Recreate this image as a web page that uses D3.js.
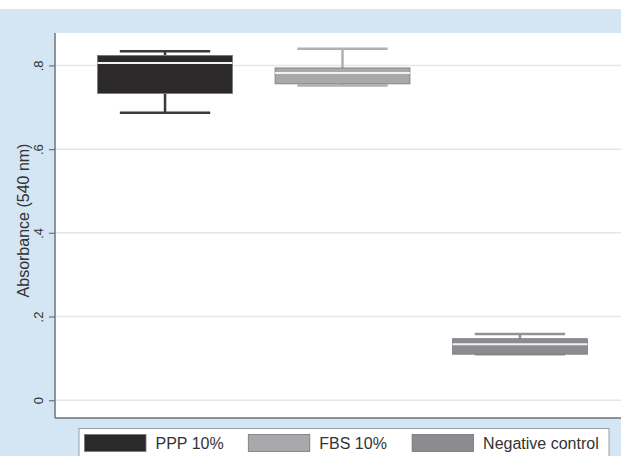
<!DOCTYPE html>
<html>
<head>
<meta charset="utf-8">
<script src="https://cdn.jsdelivr.net/npm/d3@7"></script>
<style>
  body { margin: 0; background: #fff; }
  svg { display: block; font-family: "Liberation Sans", Arial, sans-serif; }
</style>
</head>
<body>
<div id="chart"></div>
<script>
// box plot data
const groups = ["PPP 10%", "FBS 10%", "Negative control"];
const lowerWhisker = [0.687, 0.752, 0.110];
const q1 = [0.733, 0.756, 0.110];
const median = [0.806, 0.782, 0.134];
const q3 = [0.824, 0.794, 0.147];
const upperWhisker = [0.834, 0.840, 0.158];
const yTickValues = [0, 0.2, 0.4, 0.6, 0.8];

const fills = ["#2c292a", "#a9a9ac", "#8c8c90"];
const whiskerColors = ["#3a3839", "#b0b0b3", "#939397"];

const width = 621, height = 456;
const plot = { left: 55, right: 630, top: 33, bottom: 418 };

const svg = d3.select("#chart")
    .append("svg")
    .attr("width", width)
    .attr("height", height)
    .attr("viewBox", `0 0 ${width} ${height}`);

// graph region background
svg.append("rect")
    .attr("x", 0).attr("y", 9)
    .attr("width", width).attr("height", height - 9)
    .attr("fill", "#d4e5f4");

svg.append("rect")
    .attr("x", plot.left).attr("y", plot.top)
    .attr("width", plot.right - plot.left).attr("height", plot.bottom - plot.top)
    .attr("fill", "#ffffff");

const x = d3.scaleBand()
    .domain(groups)
    .range([plot.left, plot.right])
    .paddingInner(0.24)
    .paddingOuter(0.24);

const y = d3.scaleLinear()
    .domain([-0.0425, 0.8775])
    .range([plot.bottom, plot.top]);

// grid
svg.append("g")
    .selectAll("line")
    .data(yTickValues)
    .join("line")
    .attr("x1", plot.left).attr("x2", plot.right)
    .attr("y1", d => y(d)).attr("y2", d => y(d))
    .attr("stroke", "#e6e6e6")
    .attr("stroke-width", 1.5);

// y axis
const yAxis = svg.append("g")
    .attr("transform", `translate(${plot.left},0)`)
    .call(d3.axisLeft(y)
        .tickValues(yTickValues)
        .tickSize(6)
        .tickFormat(d => d === 0 ? "0" : d3.format(".1f")(d).replace(/^0/, "")));

yAxis.select(".domain").remove();
yAxis.selectAll(".tick line").attr("stroke", "#6d7378").attr("stroke-width", 1.2);
yAxis.selectAll(".tick text")
    .attr("transform", "rotate(-90)")
    .attr("x", 0)
    .attr("y", -12)
    .attr("dy", 0)
    .attr("text-anchor", "middle")
    .attr("fill", "#333")
    .attr("font-size", "13px");

// axis lines
svg.append("line")
    .attr("x1", plot.left).attr("x2", plot.left)
    .attr("y1", plot.top).attr("y2", plot.bottom)
    .attr("stroke", "#6d7378").attr("stroke-width", 1.5);
svg.append("line")
    .attr("x1", plot.left).attr("x2", plot.right)
    .attr("y1", plot.bottom).attr("y2", plot.bottom)
    .attr("stroke", "#6d7378").attr("stroke-width", 1.5);

svg.append("text")
    .attr("transform", `translate(23,${(plot.top + plot.bottom) / 2 - 5}) rotate(-90)`)
    .attr("text-anchor", "middle")
    .attr("dy", "0.35em")
    .attr("font-size", "16px")
    .attr("fill", "#333")
    .text("Absorbance (540 nm)");

// boxes
const boxes = svg.append("g")
    .selectAll("g")
    .data(groups)
    .join("g");

const bw = x.bandwidth();
const capW = bw * 0.67;

boxes.each(function (g, i) {
    const sel = d3.select(this);
    const cx = x(g) + bw / 2;

    sel.append("line")
        .attr("x1", cx).attr("x2", cx)
        .attr("y1", y(upperWhisker[i])).attr("y2", y(q3[i]))
        .attr("stroke", whiskerColors[i]).attr("stroke-width", 2.5);
    sel.append("line")
        .attr("x1", cx).attr("x2", cx)
        .attr("y1", y(q1[i])).attr("y2", y(lowerWhisker[i]))
        .attr("stroke", whiskerColors[i]).attr("stroke-width", 2.5);
    [upperWhisker[i], lowerWhisker[i]].forEach(v => {
        sel.append("line")
            .attr("x1", cx - capW / 2).attr("x2", cx + capW / 2)
            .attr("y1", y(v)).attr("y2", y(v))
            .attr("stroke", whiskerColors[i]).attr("stroke-width", 2.5);
    });

    sel.append("rect")
        .attr("x", x(g))
        .attr("y", y(q3[i]))
        .attr("width", bw)
        .attr("height", y(q1[i]) - y(q3[i]))
        .attr("fill", fills[i])
        .attr("stroke", "#77777a")
        .attr("stroke-width", 0.8);

    sel.append("line")
        .attr("x1", x(g)).attr("x2", x(g) + bw)
        .attr("y1", y(median[i])).attr("y2", y(median[i]))
        .attr("stroke", "#f2f2f2").attr("stroke-width", 2);
});

// legend
const legend = svg.append("g");
legend.append("rect")
    .attr("x", 79).attr("y", 428.5)
    .attr("width", 530).attr("height", 40)
    .attr("fill", "#fff")
    .attr("stroke", "#9a9ea2")
    .attr("stroke-width", 1);

const lx = d3.scaleLinear().domain([0, 1]).range([84.5, 248.3]);

const items = legend.selectAll("g.item")
    .data(groups)
    .join("g")
    .attr("class", "item")
    .attr("transform", (d, i) => `translate(${lx(i)},434.5)`);

items.append("rect")
    .attr("width", 61.5).attr("height", 17)
    .attr("fill", (d, i) => fills[i])
    .attr("stroke", "#77777a")
    .attr("stroke-width", 0.8);

items.append("text")
    .attr("x", 71)
    .attr("y", 14.5)
    .attr("font-size", "16px")
    .attr("fill", "#333")
    .text(d => d);
</script>
</body>
</html>
